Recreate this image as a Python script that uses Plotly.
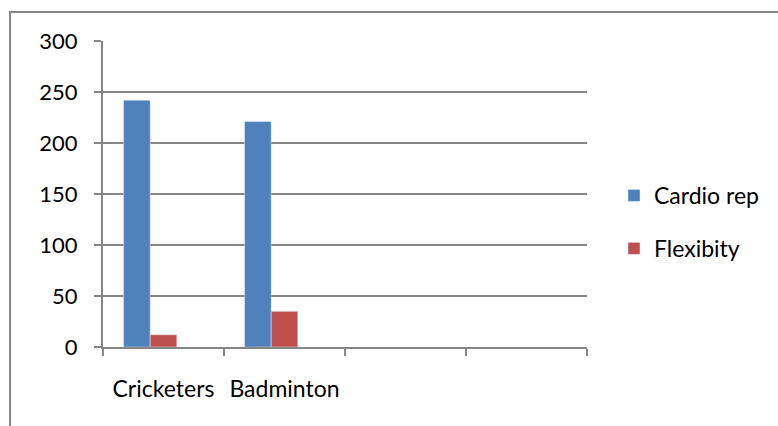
import plotly.graph_objects as go

# Category slots on the x axis (the last two are empty slots)
categories = ["Cricketers", "Badminton", " ", "  "]
cardio_rep = [242, 221, None, None]
flexibity = [12, 35, None, None]
spare_series = [None, None, None, None]

FONT = "Lato"
GRID = "#868686"

fig = go.Figure()
fig.add_trace(go.Bar(name="Cardio rep", x=categories, y=cardio_rep,
                     marker_color="#4F81BD", legendgroup="a"))
fig.add_trace(go.Bar(name="Flexibity", x=categories, y=flexibity,
                     marker_color="#C0504D", legendgroup="b"))
fig.add_trace(go.Bar(name="", x=categories, y=spare_series,
                     marker_color="#9BBB59", showlegend=False))

L, R, T, B = 103, 587, 41, 347
W, H = 778, 426
pw, ph = R - L, B - T


def px_x(v):
    return (v - L) / pw


def px_y(v):
    return (B - v) / ph


# Outer chart border
fig.add_shape(type="rect", xref="paper", yref="paper",
              x0=px_x(10), x1=px_x(800), y0=px_y(440), y1=px_y(12),
              line=dict(color=GRID, width=2), fillcolor="rgba(0,0,0,0)",
              layer="below")

fig.update_layout(
    width=W, height=H,
    margin=dict(l=L, r=W - R, t=T, b=H - B, pad=0, autoexpand=False),
    paper_bgcolor="white", plot_bgcolor="white",
    barmode="group", bargap=0.34, bargroupgap=0,
    font=dict(family=FONT, size=23, color="black"),
    legend=dict(x=px_x(614), y=px_y(222), xanchor="left", yanchor="middle",
                traceorder="grouped", tracegroupgap=20,
                font=dict(family=FONT, size=23), itemwidth=30,
                bgcolor="rgba(0,0,0,0)"),
    showlegend=True,
)

fig.update_yaxes(range=[0, 300], dtick=50, tick0=0,
                 showgrid=True, gridcolor=GRID, gridwidth=2,
                 showline=True, linecolor=GRID, linewidth=2,
                 ticks="outside", ticklen=7, tickcolor=GRID, tickwidth=2,
                 ticklabelstandoff=12, zeroline=False,
                 tickfont=dict(family=FONT, size=22))
fig.update_xaxes(showgrid=False, showline=True, linecolor=GRID, linewidth=2,
                 ticks="outside", ticklen=7, tickcolor=GRID, tickwidth=2,
                 tickson="boundaries", ticklabelstandoff=20,
                 tickfont=dict(family=FONT, size=23), tickangle=0)

fig.write_html("out.html")
